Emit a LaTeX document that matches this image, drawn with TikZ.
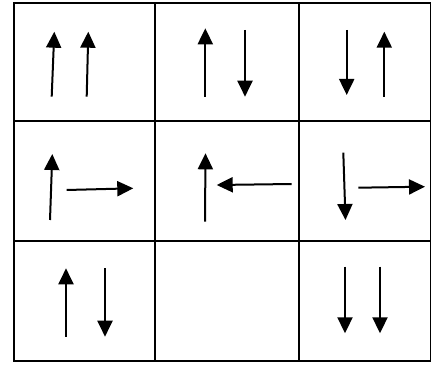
\documentclass[tikz,border=0pt]{standalone}
\usetikzlibrary{arrows.meta}
\begin{document}
\begin{tikzpicture}[x=1pt,y=-1pt,
  gridline/.style={line width=1.8pt,black},
  spin/.style={line width=2pt,-{Triangle[length=16pt,width=15pt]}}]
\useasboundingbox (0,0) rectangle (431,366);
\fill[white] (0,0) rectangle (431,366);
% grid
\draw[gridline] (13.7,3.3) rectangle (431,360.7);
\draw[gridline] (155.3,3.3) -- (155.3,360.7);
\draw[gridline] (299,3.3) -- (299,360.7);
\draw[gridline] (13.7,121) -- (431,121);
\draw[gridline] (13.7,240.7) -- (431,240.7);
% cell 1,1
\draw[spin] (51.7,96.7) -- (54.3,31.7);
\draw[spin] (86.7,96.7) -- (88.3,31.7);
% cell 1,2
\draw[spin] (205.3,96.7) -- (205.3,28.3);
\draw[spin] (245,30) -- (245,96.7);
% cell 1,3
\draw[spin] (346.7,30) -- (346.7,95);
\draw[spin] (384.3,96.7) -- (384.3,31.7);
% cell 2,1
\draw[spin] (50,220) -- (52.3,154);
\draw[spin] (66.7,190) -- (133.3,188.3);
% cell 2,2
\draw[spin] (205,221.7) -- (205.5,153.3);
\draw[spin] (291.7,184) -- (216.7,185);
% cell 2,3
\draw[spin] (343.3,152.7) -- (345.5,220);
\draw[spin] (358.3,187.7) -- (425,186.7);
% cell 3,1
\draw[spin] (66,336.7) -- (66,268.3);
\draw[spin] (105,268.3) -- (105,336.7);
% cell 3,3
\draw[spin] (345,266.7) -- (345,333.3);
\draw[spin] (380,266.7) -- (380,333.3);
\end{tikzpicture}
\end{document}
